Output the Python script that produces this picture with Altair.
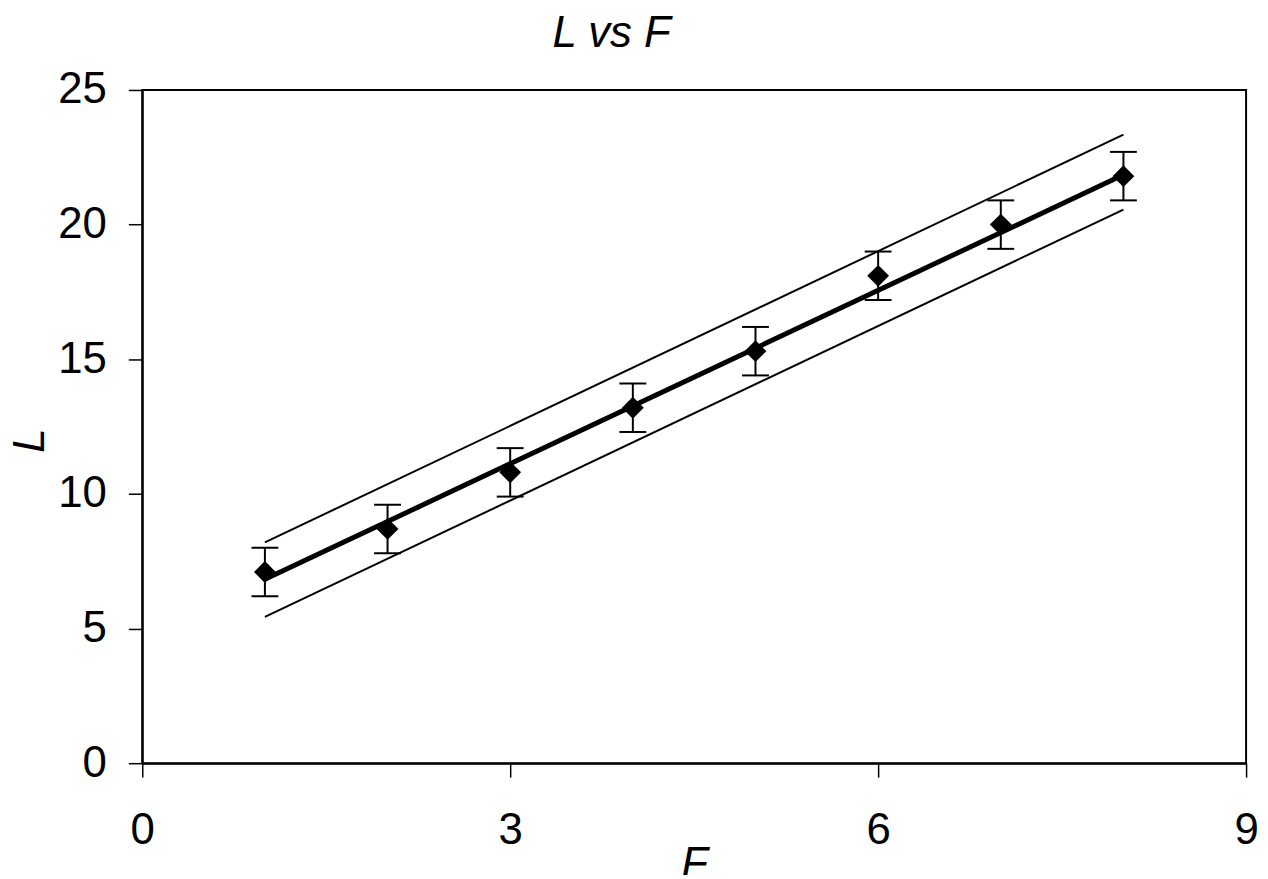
import altair as alt
import pandas as pd

# Data
F = [1, 2, 3, 4, 5, 6, 7, 8]
L = [7.1, 8.7, 10.8, 13.2, 15.3, 18.1, 20.0, 21.8]
ERR = [0.9, 0.9, 0.9, 0.9, 0.9, 0.9, 0.9, 0.9]

LINE_F = [1, 8]
FIT_L = [6.83, 21.85]
UPPER_L = [8.2, 23.34]
LOWER_L = [5.43, 20.56]

X_TICKS = [0, 3, 6, 9]
Y_TICKS = [0, 5, 10, 15, 20, 25]

pts = pd.DataFrame({"F": F, "L": L,
                    "lo": [l - e for l, e in zip(L, ERR)],
                    "hi": [l + e for l, e in zip(L, ERR)]})
lines = pd.DataFrame({"F": LINE_F * 3,
                      "L": FIT_L + UPPER_L + LOWER_L,
                      "s": ["fit"] * 2 + ["upper"] * 2 + ["lower"] * 2})

FONT = "Liberation Sans"
FS = 44

xs = alt.Scale(domain=[0, 9], nice=False)
ys = alt.Scale(domain=[0, 25], nice=False)

xax = alt.Axis(values=X_TICKS, title="F", format="d", labelPadding=32,
               titleY=115, titleBaseline="alphabetic")
yax = alt.Axis(values=Y_TICKS, title="L", format="d", labelPadding=22,
               titleX=-112, titleY=352, titleAngle=-90,
               titleBaseline="middle", titleAlign="center")

base_lines = alt.Chart(lines)

band = base_lines.transform_filter(alt.datum.s != "fit").mark_line(
    color="black", strokeWidth=2).encode(
    x=alt.X("F:Q", scale=xs, axis=xax),
    y=alt.Y("L:Q", scale=ys, axis=yax),
    detail="s:N")

fit = base_lines.transform_filter(alt.datum.s == "fit").mark_line(
    color="black", strokeWidth=5).encode(
    x=alt.X("F:Q", scale=xs), y=alt.Y("L:Q", scale=ys))

rules = alt.Chart(pts).mark_rule(color="black", strokeWidth=2).encode(
    x=alt.X("F:Q", scale=xs), y=alt.Y("lo:Q", scale=ys), y2="hi:Q")
cap_hi = alt.Chart(pts).mark_tick(color="black", orient="horizontal",
                                  size=27, thickness=2, opacity=1).encode(
    x=alt.X("F:Q", scale=xs), y=alt.Y("hi:Q", scale=ys))
cap_lo = alt.Chart(pts).mark_tick(color="black", orient="horizontal",
                                  size=27, thickness=2, opacity=1).encode(
    x=alt.X("F:Q", scale=xs), y=alt.Y("lo:Q", scale=ys))
pts_mark = alt.Chart(pts).mark_point(shape="diamond", filled=True, color="black",
                                     opacity=1, size=480).encode(
    x=alt.X("F:Q", scale=xs), y=alt.Y("L:Q", scale=ys))

chart = alt.layer(band, fit, rules, cap_hi, cap_lo, pts_mark).properties(
    width=1110, height=677,
    autosize=alt.AutoSizeParams(type="none"),
    padding={"left": 135, "top": 80, "right": 14, "bottom": 110},
    title=alt.TitleParams(text="L vs F", font=FONT, fontSize=FS,
                          fontStyle="italic", fontWeight="normal",
                          color="black", anchor="middle", dx=-83, offset=12),
).configure_view(stroke="black", strokeWidth=2
).configure_axis(
    grid=False, tickSize=14, tickColor="black", tickWidth=1.5,
    domainColor="black", domainWidth=2, labelFlush=False,
    labelFont=FONT, labelFontSize=FS, labelColor="black",
    titleFont=FONT, titleFontSize=FS, titleFontStyle="italic",
    titleFontWeight="normal", titleColor="black",
)

chart.save("out.html", embed_options={"renderer": "svg", "actions": False})
